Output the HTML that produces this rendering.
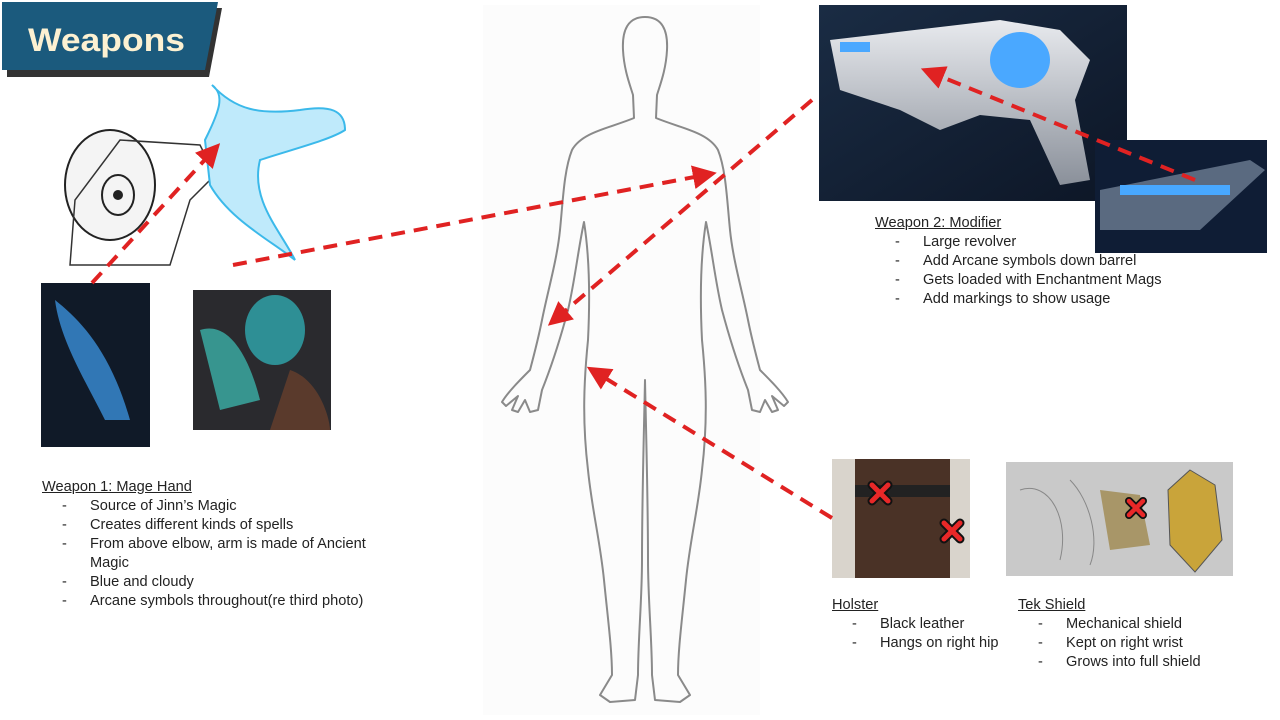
<!DOCTYPE html>
<html><head><meta charset="utf-8"><style>
body{margin:0;width:1280px;height:720px;background:#fff;position:relative;overflow:hidden;font-family:"Liberation Sans",sans-serif;}
.t{position:absolute;font-size:14.6px;color:#222;line-height:19px;white-space:nowrap}
.t u{text-decoration:underline}
.d{display:inline-block;width:28px}
</style></head><body>
<svg width="1280" height="720" style="position:absolute;left:0;top:0">
<defs>
<linearGradient id="g1" x1="0" y1="0" x2="1" y2="1"><stop offset="0" stop-color="#1a2c44"/><stop offset="1" stop-color="#0d1626"/></linearGradient>
<linearGradient id="gun" x1="0" y1="0" x2="0" y2="1"><stop offset="0" stop-color="#e8eaee"/><stop offset="1" stop-color="#8a909a"/></linearGradient>
<marker id="ah" markerWidth="6" markerHeight="6" refX="3" refY="3" orient="auto" markerUnits="strokeWidth"><path d="M0,0 L6,3 L0,6 z" fill="#e02222"/></marker>
</defs>
<polygon points="7,8 222,8 209,77 7,77" fill="#333"/>
<polygon points="2,2 218,2 205,70 2,70" fill="#1b5a7d"/>
<text x="28" y="51" font-size="32" font-weight="bold" fill="#fcf1d2" font-family="Liberation Sans" textLength="157" lengthAdjust="spacingAndGlyphs">Weapons</text>
<rect x="483" y="5" width="277" height="710" fill="#fcfcfc"/>
<path d="M645,17 C662,17 668,30 667,50 C666,70 660,85 657,95 L656,118 C680,128 708,132 718,150 C726,170 727,200 730,230 C733,260 742,290 748,320 C752,340 756,355 760,370 C770,380 782,392 788,402 L784,406 L772,396 L778,410 L772,412 L765,400 L760,412 L752,410 L748,390 C740,370 730,340 722,310 C715,280 712,250 706,222 C700,260 700,300 702,340 C706,380 708,420 702,470 C698,510 690,540 686,580 C682,620 678,650 678,675 L690,695 L680,702 L655,700 L652,675 C652,640 648,600 648,560 C648,500 646,430 645,380 C644,430 642,500 642,560 C642,600 638,640 638,675 L635,700 L610,702 L600,695 L612,675 C612,650 608,620 604,580 C600,540 592,510 588,470 C582,420 584,380 588,340 C590,300 590,260 584,222 C578,250 575,280 568,310 C560,340 550,370 542,390 L538,410 L530,412 L525,400 L518,412 L512,410 L518,396 L506,406 L502,402 C508,392 520,380 530,370 C534,355 538,340 542,320 C548,290 557,260 560,230 C563,200 564,170 572,150 C582,132 610,128 634,118 L633,95 C630,85 624,70 623,50 C622,30 628,17 645,17 Z" fill="none" stroke="#8a8a8a" stroke-width="2" stroke-linejoin="round"/>
<g>
<ellipse cx="110" cy="185" rx="45" ry="55" fill="#f4f4f4" stroke="#222" stroke-width="2"/>
<ellipse cx="118" cy="195" rx="16" ry="20" fill="none" stroke="#222" stroke-width="2"/>
<circle cx="118" cy="195" r="5" fill="#222"/>
<path d="M70,265 L75,200 L120,140 L200,145 L215,175 L190,200 L170,265 Z" fill="none" stroke="#333" stroke-width="1.5"/>
<path d="M205,140 C220,110 225,95 212,85 C235,110 260,115 300,110 C330,105 345,110 345,130 C330,140 290,150 260,160 C250,200 280,230 295,260 C270,240 230,220 210,185 Z" fill="#bfeafb" stroke="#3bb9ea" stroke-width="2"/>
</g>
<rect x="41" y="283" width="109" height="164" fill="#101a28"/>
<path d="M55,300 C80,320 110,350 130,420 L105,420 C85,380 60,340 55,300 Z" fill="#3a8fd8" opacity=".8"/>
<rect x="193" y="290" width="138" height="140" fill="#2a2a2e"/>
<ellipse cx="275" cy="330" rx="30" ry="35" fill="#2e8f95"/>
<path d="M200,330 C230,320 250,360 260,400 L220,410 Z" fill="#3bb0a8" opacity=".8"/>
<path d="M290,370 C320,380 330,420 330,430 L270,430 Z" fill="#5a3a2c"/>
<rect x="819" y="5" width="308" height="196" fill="url(#g1)"/>
<path d="M830,40 L1000,20 L1060,30 L1090,60 L1075,100 L1090,180 L1060,185 L1030,120 L980,115 L940,130 L900,110 L840,90 Z" fill="url(#gun)"/>
<ellipse cx="1020" cy="60" rx="30" ry="28" fill="#4aa8ff"/>
<rect x="840" y="42" width="30" height="10" fill="#4aa8ff"/>
<rect x="1095" y="140" width="172" height="113" fill="#0f1d35"/>
<path d="M1100,190 L1250,160 L1265,170 L1200,230 L1100,230 Z" fill="#5a6a80"/>
<rect x="1120" y="185" width="110" height="10" fill="#48a8ff"/>
<rect x="832" y="459" width="138" height="119" fill="#d9d4cc"/>
<rect x="855" y="459" width="95" height="119" fill="#4a3226"/>
<rect x="855" y="485" width="95" height="12" fill="#222"/>
<rect x="1006" y="462" width="227" height="114" fill="#c9c9c9"/>
<path d="M1190,470 L1215,485 L1222,540 L1195,572 L1170,545 L1168,490 Z" fill="#c9a43a" stroke="#555"/>
<path d="M1100,490 L1140,495 L1150,545 L1110,550 Z" fill="#a08a50" opacity=".8"/>
<path d="M1020,490 C1050,480 1070,520 1060,560 M1070,480 C1090,500 1100,540 1090,565" stroke="#888" fill="none"/>
<g stroke-linecap="round">
<g transform="translate(880,493)"><path d="M-8,-8 L8,8 M8,-8 L-8,8" stroke="#111" stroke-width="9"/><path d="M-8,-8 L8,8 M8,-8 L-8,8" stroke="#e82828" stroke-width="5"/></g>
<g transform="translate(952,531)"><path d="M-8,-8 L8,8 M8,-8 L-8,8" stroke="#111" stroke-width="9"/><path d="M-8,-8 L8,8 M8,-8 L-8,8" stroke="#e82828" stroke-width="5"/></g>
<g transform="translate(1136,508)"><path d="M-7,-7 L7,7 M7,-7 L-7,7" stroke="#111" stroke-width="8"/><path d="M-7,-7 L7,7 M7,-7 L-7,7" stroke="#e82828" stroke-width="4.5"/></g>
</g>
<g stroke="#e02222" stroke-width="4" stroke-dasharray="14,9" fill="none" marker-end="url(#ah)">
<line x1="92" y1="283" x2="212" y2="152"/>
<line x1="233" y1="265" x2="705" y2="175"/>
<line x1="812" y1="100" x2="557" y2="318"/>
<line x1="1195" y1="180" x2="932" y2="73"/>
<line x1="832" y1="518" x2="597" y2="373"/>
</g>
</svg>
<div class="t" style="left:42px;top:478px"><u>Weapon 1: Mage Hand</u><br>
<span style="margin-left:20px" class="d">-</span>Source of Jinn’s Magic<br>
<span style="margin-left:20px" class="d">-</span>Creates different kinds of spells<br>
<span style="margin-left:20px" class="d">-</span>From above elbow, arm is made of Ancient<br>
<span style="margin-left:48px"></span>Magic<br>
<span style="margin-left:20px" class="d">-</span>Blue and cloudy<br>
<span style="margin-left:20px" class="d">-</span>Arcane symbols throughout(re third photo)</div>
<div class="t" style="left:875px;top:214px"><u>Weapon 2: Modifier</u><br>
<span style="margin-left:20px" class="d">-</span>Large revolver<br>
<span style="margin-left:20px" class="d">-</span>Add Arcane symbols down barrel<br>
<span style="margin-left:20px" class="d">-</span>Gets loaded with Enchantment Mags<br>
<span style="margin-left:20px" class="d">-</span>Add markings to show usage</div>
<div class="t" style="left:832px;top:596px"><u>Holster</u><br>
<span style="margin-left:20px" class="d">-</span>Black leather<br>
<span style="margin-left:20px" class="d">-</span>Hangs on right hip</div>
<div class="t" style="left:1018px;top:596px"><u>Tek Shield</u><br>
<span style="margin-left:20px" class="d">-</span>Mechanical shield<br>
<span style="margin-left:20px" class="d">-</span>Kept on right wrist<br>
<span style="margin-left:20px" class="d">-</span>Grows into full shield</div>
</body></html>
